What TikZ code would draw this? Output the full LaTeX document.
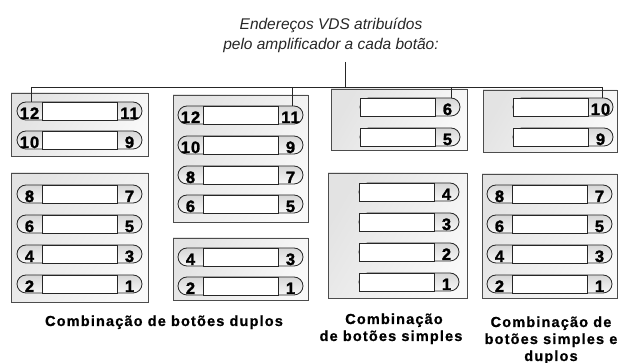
\documentclass[tikz,border=0pt]{standalone}
\usepackage{fontspec}
\setmainfont{Liberation Sans}
\newfontfamily\capfont{Liberation Sans Bold}[LetterSpace=8, FakeBold=0.8]
\newfontfamily\numfam{Liberation Sans Bold}[LetterSpace=6, FakeBold=1.6]
\usetikzlibrary{calc}
\tikzset{
  panel/.style={draw=gray!60!black, line width=0.9pt, left color=gray!22, right color=gray!5, shading angle=60, inner sep=0pt, outer sep=0pt, anchor=north west},
  capshade/.style={top color=gray!32, bottom color=gray!6},
  btnline/.style={draw=black!85, line width=0.8pt},
  midbox/.style={fill=white, draw=black!85, line width=0.8pt},
  num/.style={anchor=base, inner sep=0pt, font=\numfam\fontsize{16.5}{16.5}\selectfont, text=black},
  wire/.style={draw=black!85, line width=0.7pt},
  titletext/.style={anchor=base, inner sep=0pt, font=\itshape\fontsize{15.5}{18}\selectfont, text=black!85},
  captext/.style={anchor=base, inner sep=0pt, font=\capfont\fontsize{14.5}{17}\selectfont, text=black}
}
\newcommand\DBtn[5]{%
  \shade[capshade, rounded corners=9pt] (#2,#3) rectangle ++(125,18);
  \draw[btnline, rounded corners=9pt] (#2,#3) rectangle ++(125,18);
  \filldraw[midbox] (#2+25,#3) rectangle ++(75,18);
  \coordinate (#1) at (#2,#3);
  \node[num] (#1l) at (#2+12.5,#3+17) {#4};
  \node[num] (#1r) at (#2+112.5,#3+17) {#5};
}
\newcommand\SBtn[4]{%
  \shade[capshade, rounded corners=9pt] (#2,#3) rectangle ++(100,18);
  \draw[btnline, rounded corners=9pt] (#2,#3) rectangle ++(100,18);
  \filldraw[midbox] (#2,#3) rectangle ++(75,18);
  \coordinate (#1) at (#2,#3);
  \node[num] (#1r) at (#2+87.5,#3+17) {#4};
}
\begin{document}
\begin{tikzpicture}[x=1pt,y=-1pt]
\useasboundingbox (0,0) rectangle (625,363);
% title
\node[titletext] (t1) at (331,29.5) {Endereços VDS atribuídos};
\node[titletext] (t2) at (331,49.5) {pelo amplificador a cada botão:};
% panels
\node[panel, minimum width=137pt, minimum height=63pt] (p1) at (11,93) {};
\node[panel, minimum width=135pt, minimum height=127pt] (p2) at (173,95) {};
\node[panel, minimum width=136pt, minimum height=61pt] (p3) at (331,89) {};
\node[panel, minimum width=134pt, minimum height=62pt] (p4) at (483,90) {};
\node[panel, minimum width=137pt, minimum height=129pt] (p5) at (11,173) {};
\node[panel, minimum width=135pt, minimum height=62pt] (p6) at (173,238) {};
\node[panel, minimum width=139pt, minimum height=125pt] (p7) at (328,173) {};
\node[panel, minimum width=135pt, minimum height=124pt] (p8) at (482,174) {};
% buttons
\DBtn{a1}{17}{102}{12}{11}
\DBtn{a2}{17}{131}{10}{9}
\DBtn{b1}{178}{106}{12}{11}
\DBtn{b2}{178}{136}{10}{9}
\DBtn{b3}{178}{166}{8}{7}
\DBtn{b4}{178}{195}{6}{5}
\SBtn{c1}{360}{98}{6}
\SBtn{c2}{360}{128}{5}
\SBtn{d1}{513}{98}{10}
\SBtn{d2}{513}{128}{9}
\DBtn{e1}{17}{185}{8}{7}
\DBtn{e2}{17}{215}{6}{5}
\DBtn{e3}{17}{245}{4}{3}
\DBtn{e4}{17}{275}{2}{1}
\DBtn{f1}{178}{248}{4}{3}
\DBtn{f2}{178}{277}{2}{1}
\SBtn{g1}{359}{183}{4}
\SBtn{g2}{359}{213}{3}
\SBtn{g3}{359}{243}{2}
\SBtn{g4}{359}{273}{1}
\DBtn{h1}{487}{185}{8}{7}
\DBtn{h2}{487}{215}{6}{5}
\DBtn{h3}{487}{245}{4}{3}
\DBtn{h4}{487}{275}{2}{1}
% connectors
\coordinate (stemtop) at (345,62);
\coordinate (hub) at (345,87);
\coordinate (j1) at (31,87);
\coordinate (j2) at (292,87);
\coordinate (j3) at (451,87);
\coordinate (j4) at (602,87);
\draw[wire] (stemtop) -- (hub);
\draw[wire] (j1) -- (j4);
\draw[wire] (j1) -- (j1 |- a1);
\draw[wire] (j2) -- (j2 |- b1);
\draw[wire] (j3) -- (j3 |- c1);
\draw[wire] (j4) -- (j4 |- d1);
% captions
\node[captext] (k1) at (164,326) {Combinação de botões duplos};
\node[captext] (k2a) at (394,324) {Combinação};
\node[captext] (k2b) at (391,341) {de botões simples};
\node[captext] (k3a) at (551,327) {Combinação de};
\node[captext] (k3b) at (551,344) {botões simples e};
\node[captext] (k3c) at (551,361) {duplos};
\end{tikzpicture}
\end{document}
